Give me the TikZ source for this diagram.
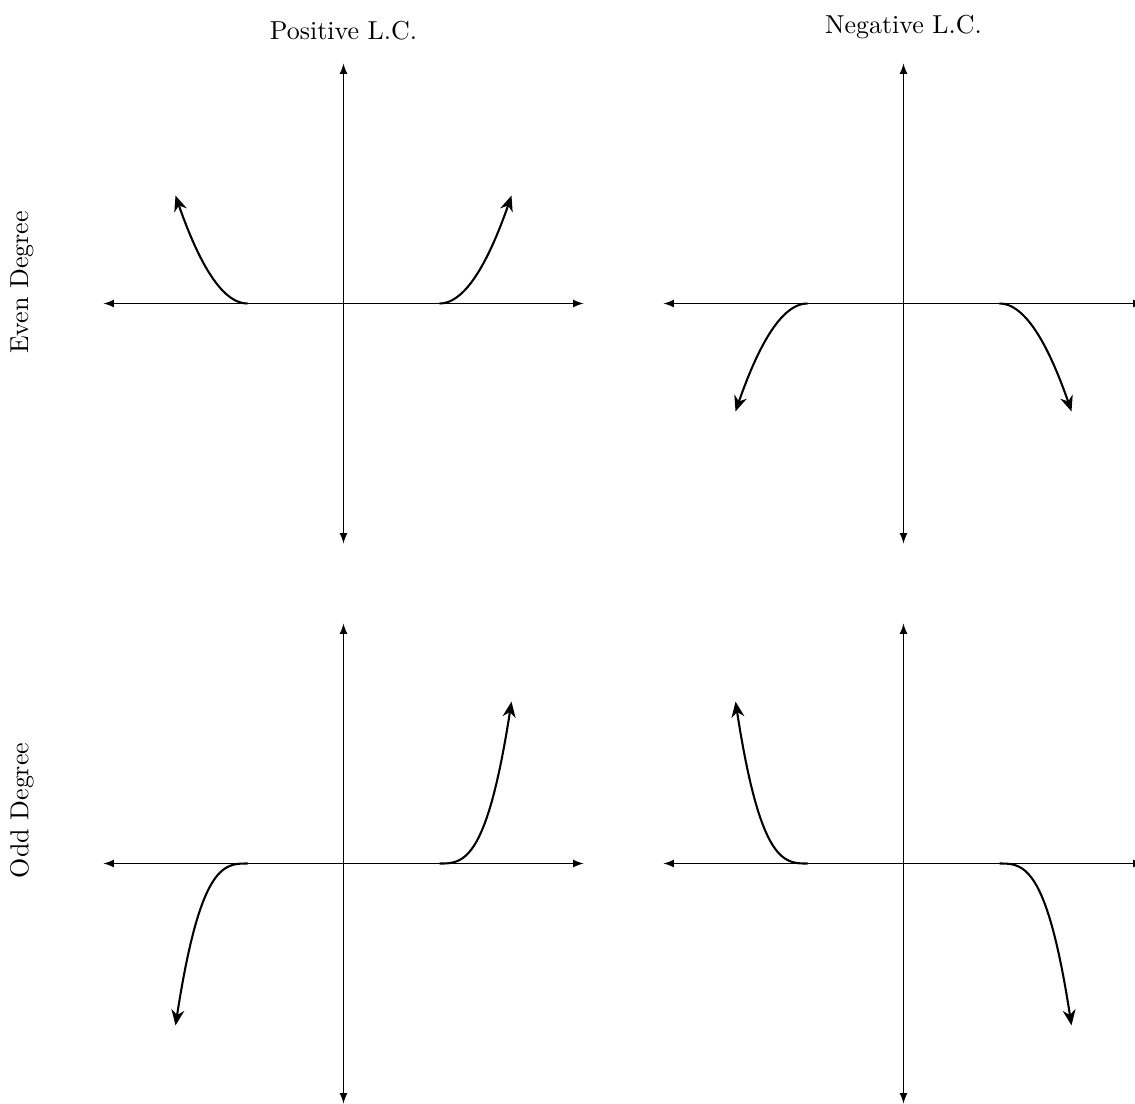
\documentclass[tikz,border=0pt]{standalone}
\usepackage{tikz}
\usetikzlibrary{arrows, arrows.meta}

\begin{document}
\begin{tikzpicture}[x=0.65cm, y=0.65cm,
          % axes and graphs
          axis/.style={<->, >=latex, thin},
          graph/.style={->, thick, >={Stealth[length=6pt, width=5pt]}},
          % labels
          collabel/.style={font=\normalsize},
          rowlabel/.style={font=\normalsize, rotate=90}
        ]
          \useasboundingbox (-7.1564,-16.6566) rectangle (16.4896,6.3229);

          % ==========================================
          % 1. Column and row labels
          % ==========================================
          \node[collabel] (poslc) at (0,5.69) {Positive L.C.};
          \node[collabel] (neglc) at (11.667,5.75) {Negative L.C.};
          \node[rowlabel] (even) at (-6.7,0.44) {Even Degree};
          \node[rowlabel] (odd) at (-6.7,-10.56) {Odd Degree};

          % ==========================================
          % 2. Axes
          % ==========================================
          \foreach \cx/\cy in {0/0, 11.667/0, 0/-11.667, 11.667/-11.667} {
            \begin{scope}[shift={(\cx,\cy)}]
              \draw[axis] (-5,0) -- (5,0);
              \draw[axis] (0,-5) -- (0,5);
            \end{scope}
          }

          % ==========================================
          % 3. End behaviour
          % ==========================================
          % even, positive
          \draw[graph] plot[domain=-2:-3.5, samples=30] (\x,{(\x+2)^2});
          \draw[graph] plot[domain=2:3.5, samples=30] (\x,{(\x-2)^2});
          % even, negative
          \begin{scope}[shift={(11.667,0)}]
            \draw[graph] plot[domain=-2:-3.5, samples=30] (\x,{-(\x+2)^2});
            \draw[graph] plot[domain=2:3.5, samples=30] (\x,{-(\x-2)^2});
          \end{scope}
          % odd, positive
          \begin{scope}[shift={(0,-11.667)}]
            \draw[graph] plot[domain=-2:-3.5, samples=30] (\x,{(\x+2)^3});
            \draw[graph] plot[domain=2:3.5, samples=30] (\x,{(\x-2)^3});
          \end{scope}
          % odd, negative
          \begin{scope}[shift={(11.667,-11.667)}]
            \draw[graph] plot[domain=-2:-3.5, samples=30] (\x,{-(\x+2)^3});
            \draw[graph] plot[domain=2:3.5, samples=30] (\x,{-(\x-2)^3});
          \end{scope}
        \end{tikzpicture}
\end{document}
